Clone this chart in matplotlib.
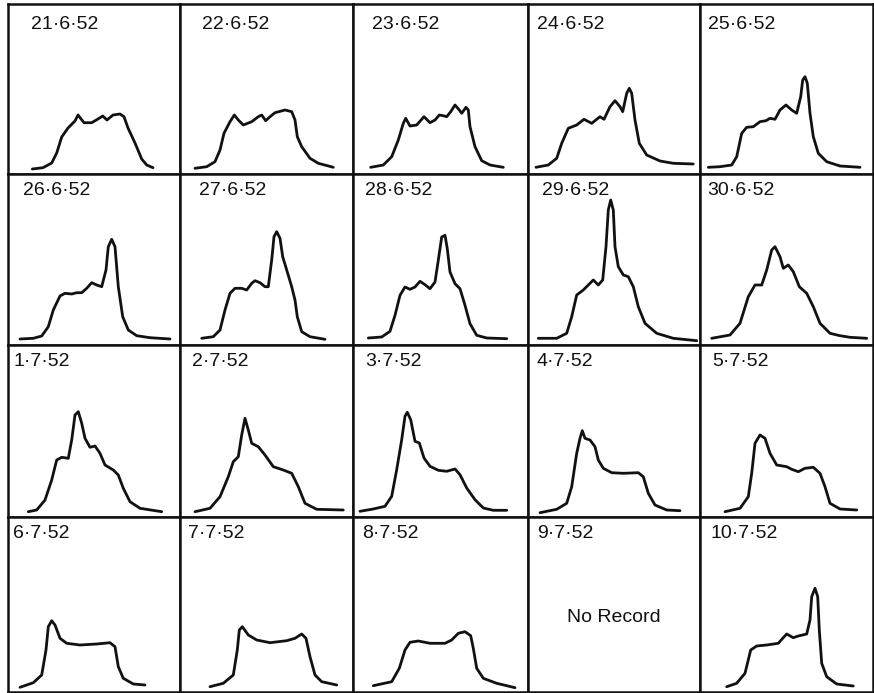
import matplotlib
matplotlib.use("Agg")
import matplotlib.pyplot as plt

plt.rcParams["font.family"] = ["Liberation Sans", "DejaVu Sans"]

# ── data: traced curves, x = px from panel left, y = px above panel bottom ────

X_21_6 = [24.3, 35, 43.7, 48.7, 53.7, 60, 67, 70, 76, 83.7, 90, 94.7, 99, 105, 112, 116, 120, 127, 133.7, 138.7, 145]
Y_21_6 = [5, 6.3, 11, 21, 37, 46, 53, 59, 51.3, 51.3, 55, 58, 54, 59, 60, 57.3, 46, 31, 15, 9, 6.3]

X_22_6 = [15, 26.7, 35, 40, 44, 50, 54.3, 58.3, 63.3, 71.7, 78.3, 81.7, 85.7, 90, 95, 105, 111.7, 115, 117.3, 121.7, 130, 138.3, 153.3]
Y_22_6 = [5.7, 7.3, 12.3, 24, 40.7, 52.3, 59, 54, 49, 52.3, 57.3, 59, 53.3, 57.3, 61.3, 64, 62.3, 54, 37.3, 27.3, 15.7, 10.7, 6.7]

X_23_6 = [17.7, 30.3, 38.7, 45.3, 50.3, 52.7, 57, 63.7, 71, 77, 82, 86.3, 90.3, 93.7, 97.7, 102, 106.3, 108.7, 113, 115.3, 117, 122, 128.7, 137, 150.3]
Y_23_6 = [6.7, 9, 17.3, 34, 50.7, 55.7, 48, 49, 57.3, 51.3, 54, 59, 58.3, 57.3, 62.3, 69, 64, 60.7, 66.7, 64, 47.3, 27.3, 13.3, 9, 6.7]

X_24_6 = [8, 20.3, 28.7, 33.7, 40.3, 48.7, 56, 63.7, 72, 76, 82, 87, 92, 94.7, 98.7, 101.3, 103.7, 107, 111.3, 118.7, 132, 145.3, 165.3]
Y_24_6 = [6.7, 9, 15.7, 30.7, 45.7, 49, 54.7, 50.7, 57.3, 54.7, 67.3, 73.3, 67.3, 62.3, 80.7, 85.7, 80.7, 54, 30.7, 19, 13, 10.7, 10]

X_25_6 = [8.3, 20, 31.7, 36.7, 41.7, 46.7, 53.3, 60, 66, 70, 75, 80, 86, 91.7, 96.7, 100.7, 102.7, 105, 107.3, 110, 113.3, 118.3, 126.7, 140, 160]
Y_25_6 = [6.7, 7.3, 9, 17.3, 40.7, 46.7, 47.3, 52.3, 53.3, 55.7, 54.7, 64, 69, 64, 60.7, 77.3, 94, 97.3, 90.7, 60.7, 37.3, 20.7, 12.3, 8, 6.7]

X_26_6 = [12, 25.3, 33.7, 40.3, 45.3, 52, 57, 63.7, 68.7, 73.7, 78.7, 83.7, 88.7, 93.7, 98, 100.3, 103.7, 107, 110.3, 114.7, 120.3, 128.7, 142, 162]
Y_26_6 = [6, 6.7, 9, 18.3, 35, 49, 51.7, 51, 52.3, 52.3, 56.7, 62.3, 60, 58.3, 75, 98.3, 105.7, 98.3, 58.3, 28.3, 15, 9.3, 7.3, 6]

X_27_6 = [21.7, 33.3, 40, 45, 50, 55, 61.7, 66.7, 71.7, 75, 80, 85, 88.3, 91.7, 94, 96.7, 100, 102.7, 106.7, 111.7, 115, 117.3, 121.7, 130, 145]
Y_27_6 = [6.7, 8.3, 15, 35, 51.7, 56.7, 56.7, 55, 61.7, 64.3, 62.3, 58.3, 58.3, 85, 108.3, 113.3, 106.7, 88.3, 75, 58.3, 45, 28.3, 13.3, 8.3, 5.7]

X_28_6 = [15.3, 28.7, 37, 42, 47, 52, 57, 62, 67, 72, 77, 82, 85.3, 88.7, 92, 94.3, 97, 102, 107, 112, 117, 123.7, 133.7, 153.7]
Y_28_6 = [7, 8, 13.7, 29.7, 49.7, 58, 55.7, 58, 63.7, 60.3, 56.3, 63, 84.7, 108, 109.7, 96.3, 73, 61.3, 56.3, 39.7, 21.3, 9.7, 7, 6.3]

X_29_6 = [10.3, 28.7, 38.7, 43.7, 48.7, 55.3, 60.3, 65.3, 70.3, 74.7, 78, 80.3, 82.7, 85.3, 87, 90.3, 95.3, 100.3, 105.3, 110.3, 117, 128.7, 145.3, 168.7]
Y_29_6 = [6.7, 6.7, 11.7, 28.3, 50, 55, 60, 65, 60, 65, 98.3, 135, 145, 135, 98.3, 78.3, 70, 68.3, 58.3, 38.3, 21.7, 11.7, 6.7, 4.3]

X_30_6 = [11.7, 30, 40, 48.3, 55, 61.7, 66.7, 71.7, 75, 80, 83.3, 88.3, 93.3, 99.3, 106.7, 113.3, 120, 130, 140, 150, 166.7]
Y_30_6 = [6.7, 10, 21.7, 48.3, 60, 60, 75, 95, 98.3, 88.3, 76.7, 80, 73.3, 58.3, 51.7, 38.3, 21.7, 11.7, 9.3, 7.7, 6.7]

X_1_7 = [20.3, 28.7, 37, 43.7, 48.7, 53.7, 60.3, 63.7, 67, 70.3, 73.7, 77, 82, 87, 92, 97, 105.3, 110.3, 115.3, 122, 132, 153.7]
Y_1_7 = [5.3, 7, 17, 37, 57, 59.7, 58.7, 77, 102, 105.3, 93.7, 78.7, 69.7, 71, 63.7, 52, 47, 42, 28.7, 15.3, 8.7, 5.3]

X_2_7 = [15, 30, 40, 48.3, 53.3, 58.3, 61.7, 65, 68.3, 71.7, 78.3, 85, 93.3, 103.3, 111.7, 118.3, 125, 136.7, 163.3]
Y_2_7 = [5.3, 8.7, 20.3, 40.3, 55.3, 60.3, 82, 98.7, 87, 73.7, 70.3, 62, 50.3, 47, 43.7, 30.3, 13.7, 7.7, 7]

X_3_7 = [7, 20.3, 32, 38.7, 43.7, 48.7, 52, 54.3, 57.7, 62, 66.3, 71, 77, 85.3, 93.7, 102, 107, 113.7, 122, 130.3, 140.3, 153.7]
Y_3_7 = [5.7, 8, 10.7, 20.7, 47.3, 77.3, 100.7, 104.7, 97.3, 75.7, 74, 59, 50.7, 46.7, 45.7, 48, 42.3, 29, 17.3, 9, 6.7, 6.7]

X_4_7 = [12, 28.7, 38.7, 43.7, 48.7, 52, 54.3, 57, 62, 67, 70.3, 75.3, 83.7, 95.3, 110.3, 115.3, 120.3, 127, 138.7, 152]
Y_4_7 = [4.3, 7.7, 13.7, 30.3, 63.7, 78.7, 86.3, 78.7, 77, 70.3, 57, 48.7, 44.3, 43.7, 44.3, 40.3, 23.7, 12, 7, 6.3]

X_5_7 = [25, 40, 48.3, 51.7, 55, 60, 65, 70, 76.7, 86.7, 91.7, 98.3, 105, 113.3, 120, 125, 130, 140, 156.7]
Y_5_7 = [5.3, 8.7, 20.3, 43.7, 73.7, 82, 78.7, 63.7, 52, 50.3, 47.7, 45.3, 48.7, 49.7, 43.7, 30.3, 13.7, 8, 7]

X_6_7 = [12, 25.3, 33.7, 38, 40.3, 43.7, 47, 52, 58.7, 72, 88.7, 102, 107, 110.3, 115.3, 125.3, 137]
Y_6_7 = [4.7, 9.3, 17, 42, 65.3, 71.3, 67, 53.7, 48.7, 47, 48, 49.3, 45.3, 25.3, 13.7, 8, 7]

X_7_7 = [30, 43.3, 53.3, 57.3, 59.3, 62.3, 68.3, 76.7, 90, 106.7, 115, 121.7, 126, 130, 135, 141.7, 156.7]
Y_7_7 = [5.3, 8.7, 17, 42, 62, 65.3, 57, 52, 49.3, 51.3, 53.7, 58, 53.7, 35.3, 17, 10.3, 7]

X_8_7 = [20.3, 38.7, 46.3, 52, 57, 65.3, 77, 92, 98.7, 105.3, 112, 117.7, 120.3, 123.7, 130.3, 143.7, 162]
Y_8_7 = [6.3, 10.3, 23.7, 42, 49.7, 51, 48.7, 48.7, 52, 58.7, 60.3, 56.3, 43.7, 23.7, 13.7, 8.7, 4.3]

X_10_7 = [26.7, 36.7, 45, 50.7, 56.7, 66.7, 78.3, 82.7, 86.7, 93.3, 98.3, 106.7, 110, 111.7, 115, 117.7, 119.3, 121.7, 126.7, 136.7, 153.3]
Y_10_7 = [5.3, 8.7, 18.7, 42, 46, 47, 48.7, 53.7, 58, 54.3, 56, 58, 72, 95.3, 103.7, 95.3, 62, 28.7, 15.3, 8, 6]

LABELS = ["21·6·52", "22·6·52", "23·6·52", "24·6·52", "25·6·52",
          "26·6·52", "27·6·52", "28·6·52", "29·6·52", "30·6·52",
          "1·7·52", "2·7·52", "3·7·52", "4·7·52", "5·7·52",
          "6·7·52", "7·7·52", "8·7·52", "9·7·52", "10·7·52"]

CURVES = [(X_21_6, Y_21_6), (X_22_6, Y_22_6), (X_23_6, Y_23_6), (X_24_6, Y_24_6), (X_25_6, Y_25_6),
          (X_26_6, Y_26_6), (X_27_6, Y_27_6), (X_28_6, Y_28_6), (X_29_6, Y_29_6), (X_30_6, Y_30_6),
          (X_1_7, Y_1_7), (X_2_7, Y_2_7), (X_3_7, Y_3_7), (X_4_7, Y_4_7), (X_5_7, Y_5_7),
          (X_6_7, Y_6_7), (X_7_7, Y_7_7), (X_8_7, Y_8_7), None, (X_10_7, Y_10_7)]

# ── layout (pixels) ───────────────────────────────────────────────────────────

W, H = 874, 693
COL_EDGES = [8, 180, 353, 528, 700, 873]
ROW_EDGES = [4, 174, 345, 517, 692]
LABEL_DX = [23, 21.7, 18.7, 9.3, 8.3,
            14.7, 19.3, 12, 13.7, 7.3,
            5.3, 11.7, 12, 8.7, 12.7,
            4.7, 8.3, 8.7, 9.3, 10]
INK = "#111111"

fig = plt.figure(figsize=(W / 100, H / 100), dpi=100)
fig.patch.set_facecolor("white")

for i, label in enumerate(LABELS):
    r, c = divmod(i, 5)
    x0, x1 = COL_EDGES[c], COL_EDGES[c + 1]
    y0, y1 = ROW_EDGES[r], ROW_EDGES[r + 1]
    w, h = x1 - x0, y1 - y0
    ax = fig.add_axes([x0 / W, (H - y1) / H, w / W, h / H])
    ax.set_xlim(0, w)
    ax.set_ylim(0, h)
    ax.set_xticks([])
    ax.set_yticks([])
    for sp in ax.spines.values():
        sp.set_linewidth(1.8)
        sp.set_color(INK)

    dy = 25 if r == 0 else 21
    ax.text(LABEL_DX[i], h - dy, label, fontsize=14, color=INK, va="baseline", ha="left")

    if CURVES[i] is None:
        ax.text(w / 2, 74, "No Record", fontsize=14, color=INK, ha="center", va="center")
    else:
        xs, ys = CURVES[i]
        ax.plot(xs, ys, color=INK, lw=2.0, solid_joinstyle="round", solid_capstyle="round")

fig.savefig("out.png", dpi=100, facecolor="white")
